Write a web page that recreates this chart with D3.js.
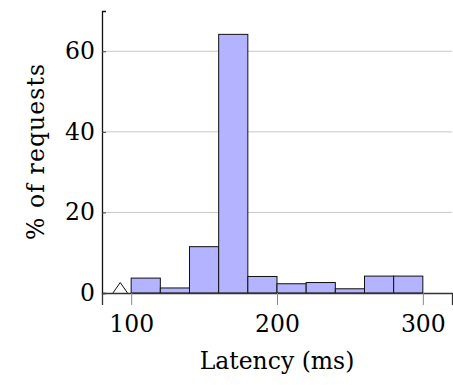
<!DOCTYPE html>
<html>
<head>
<meta charset="utf-8">
<script src="https://cdn.jsdelivr.net/npm/d3@7"></script>
<style>
  body { margin: 0; background: #fff; }
  text { font-family: "DejaVu Serif", serif; fill: #000; }
</style>
</head>
<body>
<div id="area"></div>
<script>
const binStarts = [100, 120, 140, 160, 180, 200, 220, 240, 260, 280];
const binWidth = 20;
const percents = [3.7, 1.25, 11.5, 64.2, 4.1, 2.3, 2.6, 1.05, 4.2, 4.2];
const spikeX = [87.5, 92.5, 97.5];
const spikeY = [0, 2.6, 0];
const xTicks = [100, 200, 300];
const yTicks = [0, 20, 40, 60];

const width = 453;
const height = 385;
const margin = { top: 11, right: 1, bottom: 92, left: 102 };
const fontSize = 23.5;

const x = d3
  .scaleLinear()
  .domain([80, 320])
  .range([margin.left, width - margin.right]);

const y = d3
  .scaleLinear()
  .domain([0, 70])
  .range([height - margin.bottom, margin.top]);

const svg = d3
  .select("#area")
  .append("svg")
  .attr("width", width)
  .attr("height", height);

// Horizontal grid
svg
  .append("g")
  .selectAll("line")
  .data(yTicks.filter((d) => d > 0))
  .join("line")
  .attr("x1", x(80))
  .attr("x2", x(320))
  .attr("y1", (d) => y(d))
  .attr("y2", (d) => y(d))
  .attr("stroke", "#c8c8c8")
  .attr("stroke-width", 1);

// Bars
svg
  .append("g")
  .selectAll("rect")
  .data(binStarts)
  .join("rect")
  .attr("x", (d) => x(d))
  .attr("width", (d) => x(d + binWidth) - x(d))
  .attr("y", (d, i) => y(percents[i]))
  .attr("height", (d, i) => y(0) - y(percents[i]))
  .attr("fill", "#b3b3ff")
  .attr("stroke", "#111")
  .attr("stroke-width", 1);

// Small spike before first bin
const line = d3
  .line()
  .x((d) => x(d[0]))
  .y((d) => y(d[1]));

svg
  .append("path")
  .attr("fill", "none")
  .attr("stroke", "#111")
  .attr("stroke-width", 1)
  .attr("d", line(spikeX.map((d, i) => [d, spikeY[i]])));

// x-axis
const xAxis = svg
  .append("g")
  .attr("transform", `translate(0, ${y(0)})`)
  .call(d3.axisBottom(x).tickValues(xTicks).tickSize(12).tickPadding(10));
xAxis.select(".domain").attr("stroke", "#333").attr("stroke-width", 1.3);
xAxis.selectAll(".tick line").attr("stroke", "#888");
xAxis.selectAll(".tick text").attr("font-size", fontSize);

// y-axis
const yAxis = svg
  .append("g")
  .attr("transform", `translate(${x(80)}, 0)`)
  .call(d3.axisLeft(y).tickValues(yTicks).tickSize(-4).tickPadding(7));
yAxis.select(".domain").attr("stroke", "#111").attr("stroke-width", 1.3);
yAxis.selectAll(".tick line").attr("stroke", "#444");
yAxis.selectAll(".tick text").attr("font-size", fontSize);

// Axis labels
svg
  .append("text")
  .attr("x", x(200))
  .attr("y", 369)
  .attr("text-anchor", "middle")
  .attr("font-size", fontSize)
  .text("Latency (ms)");

svg
  .append("text")
  .attr("transform", `translate(44, ${(y(0) + y(70)) / 2}) rotate(-90)`)
  .attr("text-anchor", "middle")
  .attr("font-size", fontSize)
  .attr("textLength", 176)
  .attr("lengthAdjust", "spacing")
  .text("% of requests");
</script>
</body>
</html>
